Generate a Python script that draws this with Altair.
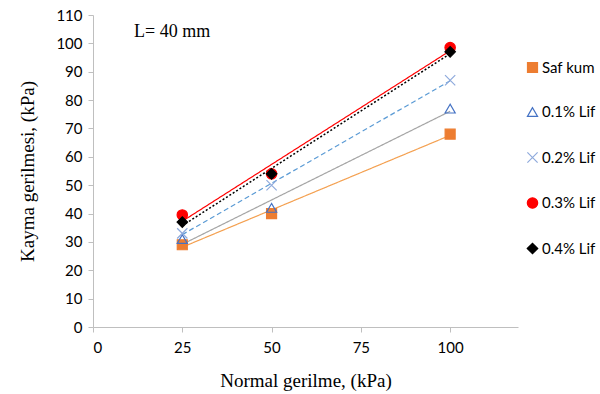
import altair as alt
import pandas as pd

series = ["Saf kum", "0.1% Lif", "0.2% Lif", "0.3% Lif", "0.4% Lif"]
normal = [25, 50, 100]
saf_kum = [29, 40, 68]
lif01 = [31, 42, 77]
lif02 = [33, 50, 87]
lif03 = [39.5, 54, 98.5]
lif04 = [37, 54, 97]
y_ticks = [0, 10, 20, 30, 40, 50, 60, 70, 80, 90, 100, 110]
x_ticks = [0, 25, 50, 75, 100]

colors_line = ["#F4A050", "#A5A5A5", "#5B9BD5", "#FF0000", "#000000"]
stroke_pt = ["#ED7D31", "#4472C4", "#8FAADC", "#FF0000", "#000000"]
fill_pt = ["#ED7D31", "transparent", "transparent", "#FF0000", "#000000"]
shapes = ["square", "triangle-up", "M-1,-1L1,1M-1,1L1,-1", "circle", "diamond"]
sizes = [100, 110, 110, 110, 55]
dashes = [[1, 0], [1, 0], [5, 3], [1, 0], [2, 2]]

rows = []
for name, vals in zip(series, [saf_kum, lif01, lif02, lif03, lif04]):
    for x, y in zip(normal, vals):
        rows.append({"series": name, "x": x, "y": y})
df = pd.DataFrame(rows)

xscale = alt.Scale(domain=[0, 119], nice=False)
yscale = alt.Scale(domain=[0, 110], nice=False)

xaxis = alt.Axis(values=x_ticks, grid=False, labelOverlap=False)
yaxis = alt.Axis(values=y_ticks, tickCount=12, grid=False, labelOverlap=False)
xenc = alt.X("x:Q", scale=xscale, title="Normal gerilme, (kPa)", axis=xaxis)
yenc = alt.Y("y:Q", scale=yscale, title="Kayma gerilmesi, (kPa)", axis=yaxis)

lines = []
for i, name in enumerate(series):
    ln = alt.Chart(df).transform_filter(alt.datum.series == name).transform_regression(
        "x", "y"
    ).mark_line(color=colors_line[i], strokeWidth=1.2 if i != 4 else 1.5,
                strokeDash=dashes[i]).encode(x=xenc, y=yenc)
    lines.append(ln)

leg = alt.Legend(title=None, orient="none", legendX=432, legendY=45,
                 labelFont="Lato", labelFontSize=15, labelColor="#000000",
                 rowPadding=28.5, symbolStrokeWidth=1.2, labelOffset=2)

points = alt.Chart(df).mark_point(filled=False, strokeWidth=1.2, opacity=1).encode(
    x=xenc, y=yenc,
    stroke=alt.Stroke("series:N", scale=alt.Scale(domain=series, range=stroke_pt), legend=leg),
    fill=alt.Fill("series:N", scale=alt.Scale(domain=series, range=fill_pt), legend=leg),
    shape=alt.Shape("series:N", scale=alt.Scale(domain=series, range=shapes), legend=leg),
    size=alt.Size("series:N", scale=alt.Scale(domain=series, range=sizes), legend=leg),
)

label_df = pd.DataFrame({"x": [11.5], "y": [104], "t": ["L= 40 mm"]})
label = alt.Chart(label_df).mark_text(align="left", baseline="middle", font="Liberation Serif",
                                      fontSize=18, color="#000000").encode(
    x=alt.X("x:Q", scale=xscale, title="Normal gerilme, (kPa)", axis=xaxis),
    y=alt.Y("y:Q", scale=yscale, title="Kayma gerilmesi, (kPa)", axis=yaxis),
    text="t:N")

chart = alt.layer(*lines, points, label).properties(
    width=425, height=312,
    autosize=alt.AutoSizeParams(type="none"),
    padding={"left": 93, "top": 15, "right": 82, "bottom": 67},
).configure_view(stroke=None).configure_axis(
    domainColor="#BFBFBF", tickColor="#BFBFBF", tickSize=5,
    labelFont="Lato", labelFontSize=15, labelColor="#000000", labelPadding=6,
    titleFont="Liberation Serif", titleFontSize=19, titleFontWeight="normal", titleColor="#000000",
).configure_axisY(titlePadding=18).configure_axisX(titlePadding=16, labelPadding=8)

chart.save("out.html", embed_options={"renderer": "svg", "actions": False})
